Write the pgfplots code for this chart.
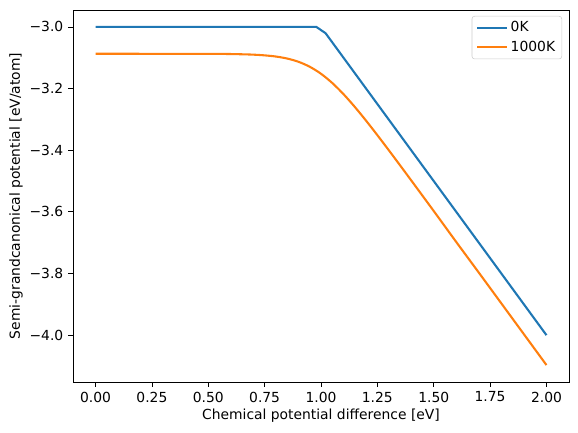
\documentclass[border=0pt]{standalone}
\usepackage{fontspec}
\setmainfont{DejaVu Sans}
\usepackage{pgfplots}
\pgfplotsset{compat=1.18}
\definecolor{C0}{HTML}{1F77B4}
\definecolor{C1}{HTML}{FF7F0E}
\begin{document}
\fontsize{10.4pt}{12.5pt}\selectfont
\begin{tikzpicture}
\begin{axis}[
  scale only axis,
  width=372pt, height=279pt,
  xmin=-0.1, xmax=2.1,
  ymin=-4.152, ymax=-2.945,
  xtick={0,0.25,0.5,0.75,1,1.25,1.5,1.75,2},
  xticklabels={0.00,0.25,0.50,0.75,1.00,1.25,1.50,1.75,2.00},
  ytick={-4.0,-3.8,-3.6,-3.4,-3.2,-3.0},
  yticklabels={−4.0,−3.8,−3.6,−3.4,−3.2,−3.0},
  tick align=outside,
  tick pos=left,
  major tick length=3.65pt,
  every tick/.style={black, line width=0.6pt},
  axis line style={line width=0.6pt},
  tick label style={font=\fontsize{10.4pt}{12.5pt}\selectfont},
  label style={font=\fontsize{10.4pt}{12.5pt}\selectfont},
  xlabel={Chemical potential difference [eV]},
  ylabel={Semi-grandcanonical potential [eV/atom]},
  xlabel style={yshift=2pt},
  ylabel style={yshift=-2pt},
  legend style={at={(0.986,0.984)}, anchor=north east, draw=black!20, rounded corners=2pt,
    font=\fontsize{10.4pt}{12.5pt}\selectfont, row sep=1.5pt, inner xsep=3pt, inner ysep=2pt},
  legend cell align=left,
  legend image code/.code={\draw[#1] (0pt,0pt) -- (22.5pt,0pt);},
]
\addplot[C0, line width=1.56pt] coordinates {
(0,-3.0) (0.97959,-3.0) (1.02041,-3.02041) (2.0,-4.0)
};
\addlegendentry{0K}
\addplot[C1, line width=1.56pt, smooth] coordinates {
(0,-3.087) (0.5,-3.0873) (0.6,-3.0879) (0.65,-3.0887) (0.7,-3.0899) (0.75,-3.0922)
(0.8,-3.0960) (0.85,-3.1025) (0.9,-3.1130) (0.95,-3.1291) (1.0,-3.1519)
(1.05,-3.1819) (1.1,-3.2182) (1.15,-3.2595) (1.2,-3.3042) (1.25,-3.3511)
(1.3,-3.3993) (1.35,-3.4483) (1.4,-3.4977) (1.5,-3.5972) (1.6,-3.6978)
(1.7,-3.7971) (1.8,-3.8970) (1.9,-3.9970) (2.0,-4.097)
};
\addlegendentry{1000K}
\end{axis}
\pgfresetboundingbox
\path (-54.75pt,-37.5pt) rectangle (378.75pt,286.5pt);
\end{tikzpicture}
\end{document}
